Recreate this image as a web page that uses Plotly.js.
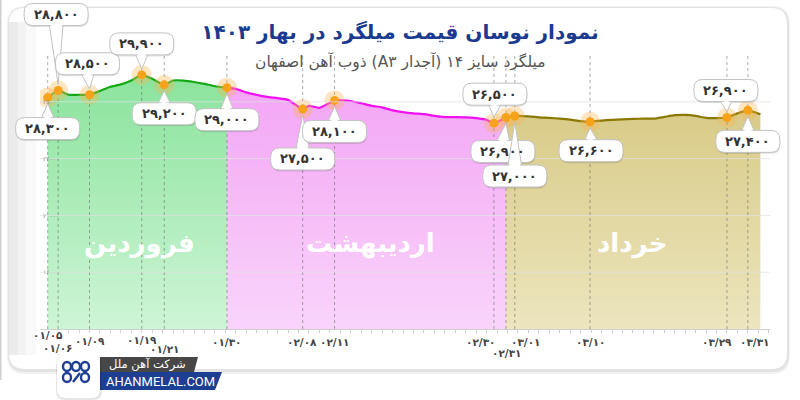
<!DOCTYPE html>
<html><head><meta charset="utf-8">
<script src="https://cdn.plot.ly/plotly-3.0.1.min.js"></script>
<style>html,body{margin:0;padding:0;background:#fff}#chart{width:800px;height:400px}</style>
</head><body><div id="chart"></div>
<script>
// ---- data ----
const dateLabels = ['۰۱/۰۵','۰۱/۰۶','۰۱/۰۹','۰۱/۱۹','۰۱/۲۱','۰۱/۳۰','۰۲/۰۸','۰۲/۱۱','۰۲/۳۰','۰۲/۳۱','۰۳/۰۱','۰۳/۱۰','۰۳/۲۹','۰۳/۳۱'];
const datePos   = [0, 1, 4, 9, 11.15, 17.15, 24.4, 27.45, 42.7, 43.85, 44.7, 51.9, 65, 67];
const datePrice = [28300, 28800, 28500, 29900, 29200, 29000, 27500, 28100, 26500, 26900, 27000, 26600, 26900, 27400];

const farvardinX = [0, 1, 2, 3, 4, 5, 6, 7, 8, 9, 10, 11.15, 12, 13, 14, 15, 16, 17.15];
const farvardinY = [28300, 28800, 28500, 28500, 28500, 28770, 29060, 29230, 29510, 29900, 29620, 29200, 29500, 29500, 29400, 29270, 29100, 29000];

const ordibeheshtX = [17.15, 18, 19, 20, 21, 22, 23, 24.4, 25, 26, 27.45, 28, 29, 30, 31, 32, 33, 34, 35, 36, 37, 38, 39, 40, 41, 42, 42.7, 43.85];
const ordibeheshtY = [29000, 28910, 28670, 28490, 28350, 28260, 28140, 27500, 27720, 27580, 28100, 28100, 28060, 27900, 27720, 27610, 27400, 27280, 27190, 27130, 27010, 26930, 26930, 26910, 26850, 26730, 26500, 26900];

const khordadX = [43.85, 44.7, 46, 47, 48, 49, 50, 51, 51.9, 53, 54, 55, 56, 57, 58, 59, 60, 61, 62, 63, 64, 65, 66, 67, 68.2];
const khordadY = [26900, 27000, 26980, 26910, 26870, 26820, 26750, 26640, 26600, 26680, 26730, 26770, 26800, 26820, 26820, 26940, 27060, 27080, 27010, 26870, 26860, 26900, 27190, 27400, 27120];

const monthNames = ['فروردین', 'اردیبهشت', 'خرداد'];
const monthPos = [8.8, 30.9, 56.0];

const yTicks = [12000, 16000, 20000, 24000, 28000];
const yTickText = ['۱۲۰۰۰', '۱۶۰۰۰', '۲۰۰۰۰', '۲۴۰۰۰', '۲۸۰۰۰'];

const titleText = 'نمودار نوسان قیمت میلگرد در بهار ۱۴۰۳';
const subtitleText = 'میلگرد سایز ۱۴ (آجدار A۳) ذوب آهن اصفهان';
const brandFa = 'شرکت آهن ملل';
const brandEn = 'AHANMELAL.COM';

// ---- layout helpers (positions / styles) ----
const yRange = [12000, 31300];
const xRange = [-0.737, 69.12];
const calloutOffset = [[0,31],[-2,-76],[-2,-31],[0,-31],[0,29],[0,32],[0,50],[0,31],[1,-29],[-3,34],[0,60],[1,29],[-1,-27],[0,31]];
const dateShift = [[0,6.5],[-1,-6.5],[0,1],[0,2],[0,-7],[0,0],[-1,0],[0,0],[-13,0],[1,-11],[11,0],[0,0],[-10,0],[7,0]];

const fa = n => n.toLocaleString('en-US').replace(/\d/g, d => '۰۱۲۳۴۵۶۷۸۹'[d]);
const L = 40, R = 770, T = 55, B = 329;
const toPaper = (X, Y) => [(X - L) / (R - L), (B - Y) / (B - T)];
// linear axis -> paper fraction (same scale as the axes), used so callouts are not clipped
const xFrac = v => (v - xRange[0]) / (xRange[1] - xRange[0]);
const yFrac = v => (v - yRange[0]) / (yRange[1] - yRange[0]);
const ident = (x, y) => [x, y];
function rr(X0, Y0, X1, Y1, r, map) {
  const P = (x, y) => { const [a, b] = map(x, y); return a.toFixed(5) + ' ' + b.toFixed(5); };
  return `M ${P(X0+r,Y0)} L ${P(X1-r,Y0)} Q ${P(X1,Y0)} ${P(X1,Y0+r)} L ${P(X1,Y1-r)} Q ${P(X1,Y1)} ${P(X1-r,Y1)} L ${P(X0+r,Y1)} Q ${P(X0,Y1)} ${P(X0,Y1-r)} L ${P(X0,Y0+r)} Q ${P(X0,Y0)} ${P(X0+r,Y0)} Z`;
}
function poly(pts, map, open) {
  return pts.map((p, i) => (i ? 'L ' : 'M ') + map(p[0], p[1]).map(v => v.toFixed(5)).join(' ')).join(' ') + (open ? '' : ' Z');
}

// ---- traces ----
const fillTrace = (x, y, line, c0, c1) => ({
  type: 'scatter', mode: 'lines', x, y, fill: 'tozeroy',
  line: { color: line, width: 2.2, shape: 'spline', smoothing: 0.5 },
  fillgradient: { type: 'vertical', start: 12000, stop: 30000, colorscale: [[0, c0], [1, c1]] },
  hoverinfo: 'skip'
});
const traces = [
  fillTrace(farvardinX, farvardinY, '#16a916', 'rgb(206,245,214)', 'rgb(138,227,156)'),
  fillTrace(ordibeheshtX, ordibeheshtY, '#f010f0', 'rgb(249,212,250)', 'rgb(243,163,245)'),
  fillTrace(khordadX, khordadY, '#8a7800', 'rgb(236,229,190)', 'rgb(213,198,126)'),
  { type: 'scatter', mode: 'lines', hoverinfo: 'skip',
    x: datePos.flatMap(p => [p, p, null]), y: datePos.flatMap(() => [yRange[0], yRange[1], null]),
    line: { color: 'rgba(90,90,90,0.5)', width: 1, dash: '3px,3px' } },
  { type: 'scatter', mode: 'markers', x: datePos, y: datePrice, hoverinfo: 'skip',
    marker: { size: 20, color: 'rgba(248,180,80,0.35)' } },
  { type: 'scatter', mode: 'markers', x: datePos, y: datePrice, hoverinfo: 'skip',
    marker: { size: 9, color: '#f7a21b' } }
];

// ---- shapes ----
const shapes = [];
shapes.push({ type: 'rect', xref: 'paper', yref: 'paper', layer: 'below',
  x0: toPaper(0,0)[0], x1: toPaper(1.5,0)[0], y0: toPaper(0,380)[1], y1: toPaper(0,0)[1],
  fillcolor: '#cfcfcf', line: { width: 0 } });
shapes.push({ type: 'path', xref: 'paper', yref: 'paper', layer: 'below', path: rr(7, 6, 790, 374, 18, toPaper), fillcolor: 'rgba(0,0,0,0.05)', line: { width: 0 } });
shapes.push({ type: 'path', xref: 'paper', yref: 'paper', layer: 'below', path: rr(8, 7, 789, 372, 17, toPaper), fillcolor: 'rgba(0,0,0,0.06)', line: { width: 0 } });
shapes.push({ type: 'path', xref: 'paper', yref: 'paper', layer: 'below', path: rr(9, 8, 787, 369, 16, toPaper), fillcolor: '#ffffff', line: { width: 0 } });
[[9,36,0.025],[9,26,0.025],[9,18,0.03]].forEach(([a, b, o]) => shapes.push({ type: 'rect', xref: 'paper', yref: 'paper', layer: 'below',
  x0: toPaper(a,0)[0], x1: toPaper(b,0)[0], y0: toPaper(0,355)[1], y1: toPaper(0,22)[1], fillcolor: `rgba(0,0,0,${o})`, line: { width: 0 } }));
yTicks.slice(1).forEach(v => shapes.push({ type: 'line', xref: 'paper', yref: 'y', layer: 'above', x0: 0, x1: 1, y0: v, y1: v,
  line: { color: 'rgba(225,225,225,0.75)', width: 1 } }));
const BW = 64, BH = 22, BR = 9;
datePos.forEach((p, i) => {
  const cx = calloutOffset[i][0], cy = -calloutOffset[i][1];
  const below = cy < 0;
  const edge = below ? cy + BH / 2 - 2 : cy - BH / 2 + 2;
  const tip = below ? -6 : 6;
  const common = { type: 'path', xref: 'paper', yref: 'paper', xsizemode: 'pixel', ysizemode: 'pixel',
    xanchor: xFrac(p), yanchor: yFrac(datePrice[i]), layer: 'above' };
  shapes.push(Object.assign({}, common, { path: rr(cx - BW/2 + 0.5, cy - BH/2 - 1.5, cx + BW/2 + 0.5, cy + BH/2 - 1.5, BR, ident), fillcolor: 'rgba(0,0,0,0.12)', line: { width: 0 } }));
  shapes.push(Object.assign({}, common, { path: poly([[cx - 7, edge], [cx + 7, edge], [0, tip]], ident), fillcolor: '#ffffff', line: { color: '#c2c2c2', width: 1 } }));
  shapes.push(Object.assign({}, common, { path: rr(cx - BW/2, cy - BH/2, cx + BW/2, cy + BH/2, BR, ident), fillcolor: '#ffffff', line: { color: '#c2c2c2', width: 1 } }));
  shapes.push(Object.assign({}, common, { path: poly([[cx - 6.3, edge], [cx + 6.3, edge], [0.6*cx, edge + (tip - edge) * 0.25]], ident), fillcolor: '#ffffff', line: { width: 0 } }));
});
shapes.push({ type: 'path', xref: 'paper', yref: 'paper', layer: 'above', path: poly([[100,357],[198,357],[194,372],[100,372]], toPaper), fillcolor: '#474747', line: { width: 0 } });
shapes.push({ type: 'path', xref: 'paper', yref: 'paper', layer: 'above', path: poly([[100,372],[222,372],[215,390],[100,390]], toPaper), fillcolor: '#1c3f94', line: { width: 0 } });
shapes.push({ type: 'path', xref: 'paper', yref: 'paper', layer: 'above', path: rr(56, 356, 102, 400, 9, toPaper), fillcolor: 'rgba(0,0,0,0.10)', line: { width: 0 } });
shapes.push({ type: 'path', xref: 'paper', yref: 'paper', layer: 'above', path: rr(57, 355, 100, 398, 9, toPaper), fillcolor: '#ffffff', line: { width: 0 } });
[[63,362,71,371],[72,362,80,371],[81,362,89,371],[63,373,71,382],[81,373,89,382]].forEach(([a,b,c,d]) => {
  const p0 = toPaper(a, d), p1 = toPaper(c, b);
  shapes.push({ type: 'circle', xref: 'paper', yref: 'paper', layer: 'above', x0: p0[0], y0: p0[1], x1: p1[0], y1: p1[1], line: { color: '#1c3f94', width: 2.4 } });
});
shapes.push({ type: 'path', xref: 'paper', yref: 'paper', layer: 'above', path: poly([[73,382],[80,373]], toPaper, true), line: { color: '#1c3f94', width: 2.4 } });

// ---- annotations ----
const C = { xanchor: 'center', yanchor: 'middle', showarrow: false };
const ann = [];
datePos.forEach((p, i) => ann.push(Object.assign({ x: p, y: datePrice[i], xref: 'x', yref: 'y',
  xshift: calloutOffset[i][0], yshift: -calloutOffset[i][1],
  text: fa(datePrice[i]), font: { family: 'DejaVu Sans', size: 13, weight: 700, color: '#333' } }, C)));
datePos.forEach((p, i) => ann.push(Object.assign({ x: p, y: toPaper(0, 342)[1], xref: 'x', yref: 'paper',
  xshift: dateShift[i][0], yshift: dateShift[i][1], text: dateLabels[i],
  font: { family: 'DejaVu Sans', size: 10.5, weight: 700, color: '#444' } }, C)));
monthNames.forEach((m, i) => ann.push(Object.assign({ x: monthPos[i], y: toPaper(0, 243)[1], xref: 'x', yref: 'paper',
  text: m, font: { family: 'DejaVu Sans', size: 26, weight: 700, color: '#ffffff' } }, C)));
ann.push(Object.assign({ x: toPaper(400, 0)[0], y: toPaper(0, 62)[1], xref: 'paper', yref: 'paper',
  text: '\u202B' + subtitleText + '\u202C', font: { family: 'DejaVu Sans', size: 15.5, color: '#555' } }, C));
ann.push(Object.assign({ x: toPaper(147, 0)[0], y: toPaper(0, 364.5)[1], xref: 'paper', yref: 'paper',
  text: brandFa, font: { family: 'DejaVu Sans', size: 11.5, color: '#ffffff' } }, C));
ann.push(Object.assign({ x: toPaper(160, 0)[0], y: toPaper(0, 381)[1], xref: 'paper', yref: 'paper',
  text: brandEn, font: { family: 'Roboto', size: 13, color: '#ffffff' } }, C));

const layout = {
  width: 800, height: 400, margin: { l: L, r: 800 - R, t: T, b: 400 - B },
  paper_bgcolor: '#ffffff', plot_bgcolor: 'rgba(0,0,0,0)', showlegend: false,
  title: { text: '\u202B' + titleText + '\u202C', xref: 'container', x: 0.5, xanchor: 'center', yref: 'container', y: 1 - 32/400, yanchor: 'middle',
    font: { family: 'DejaVu Sans', size: 20, weight: 700, color: '#1b3a8f' } },
  xaxis: { range: xRange, showgrid: false, zeroline: false, showline: true, linecolor: '#d0d0d0',
    ticks: 'outside', ticklen: 3, tickcolor: '#cfcfcf', tick0: 0, dtick: 1, showticklabels: false, fixedrange: true },
  yaxis: { range: yRange, showgrid: false, zeroline: false, tickvals: yTicks, ticktext: yTickText,
    ticklabelposition: 'inside', ticks: '', tickfont: { family: 'DejaVu Sans', size: 6, color: '#777' }, fixedrange: true },
  shapes, annotations: ann
};
Plotly.newPlot('chart', traces, layout, { displayModeBar: false, staticPlot: true });
</script></body></html>
